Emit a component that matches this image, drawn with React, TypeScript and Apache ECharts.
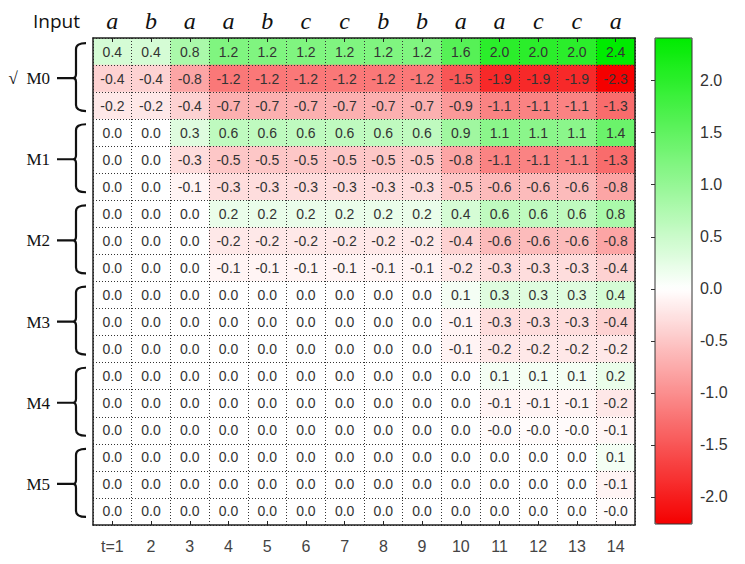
import React, { useEffect, useRef } from "react";
import * as echarts from "echarts";

// ---- data ----
const TIME_LABELS = ["t=1", "2", "3", "4", "5", "6", "7", "8", "9", "10", "11", "12", "13", "14"];
const INPUT_LABELS = ["a", "b", "a", "a", "b", "c", "c", "b", "b", "a", "a", "c", "c", "a"];
const GROUP_LABELS = ["\u221A  M0", "M1", "M2", "M3", "M4", "M5"];
const COLORBAR_TICKS = [-2.0, -1.5, -1.0, -0.5, 0.0, 0.5, 1.0, 1.5, 2.0];

const M0_1 = [0.4, 0.4, 0.8, 1.2, 1.2, 1.2, 1.2, 1.2, 1.2, 1.6, 2.0, 2.0, 2.0, 2.41];
const M0_2 = [-0.4, -0.4, -0.8, -1.2, -1.2, -1.2, -1.2, -1.2, -1.2, -1.5, -1.9, -1.9, -1.9, -2.26];
const M0_3 = [-0.2, -0.2, -0.4, -0.7, -0.7, -0.7, -0.7, -0.7, -0.7, -0.9, -1.1, -1.1, -1.1, -1.3];
const M1_1 = [0.0, 0.0, 0.3, 0.6, 0.6, 0.6, 0.6, 0.6, 0.6, 0.9, 1.1, 1.1, 1.1, 1.4];
const M1_2 = [0.0, 0.0, -0.3, -0.5, -0.5, -0.5, -0.5, -0.5, -0.5, -0.8, -1.1, -1.1, -1.1, -1.3];
const M1_3 = [0.0, 0.0, -0.1, -0.3, -0.3, -0.3, -0.3, -0.3, -0.3, -0.5, -0.6, -0.6, -0.6, -0.8];
const M2_1 = [0.0, 0.0, 0.0, 0.2, 0.2, 0.2, 0.2, 0.2, 0.2, 0.4, 0.6, 0.6, 0.6, 0.8];
const M2_2 = [0.0, 0.0, 0.0, -0.2, -0.2, -0.2, -0.2, -0.2, -0.2, -0.4, -0.6, -0.6, -0.6, -0.8];
const M2_3 = [0.0, 0.0, 0.0, -0.1, -0.1, -0.1, -0.1, -0.1, -0.1, -0.2, -0.3, -0.3, -0.3, -0.4];
const M3_1 = [0.0, 0.0, 0.0, 0.0, 0.0, 0.0, 0.0, 0.0, 0.0, 0.1, 0.3, 0.3, 0.3, 0.4];
const M3_2 = [0.0, 0.0, 0.0, 0.0, 0.0, 0.0, 0.0, 0.0, 0.0, -0.1, -0.3, -0.3, -0.3, -0.4];
const M3_3 = [0.0, 0.0, 0.0, 0.0, 0.0, 0.0, 0.0, 0.0, 0.0, -0.1, -0.2, -0.2, -0.2, -0.2];
const M4_1 = [0.0, 0.0, 0.0, 0.0, 0.0, 0.0, 0.0, 0.0, 0.0, 0.0, 0.1, 0.1, 0.1, 0.2];
const M4_2 = [0.0, 0.0, 0.0, 0.0, 0.0, 0.0, 0.0, 0.0, 0.0, 0.0, -0.1, -0.1, -0.1, -0.2];
const M4_3 = [0.0, 0.0, 0.0, 0.0, 0.0, 0.0, 0.0, 0.0, 0.0, 0.0, -0.04, -0.04, -0.04, -0.08];
const M5_1 = [0.0, 0.0, 0.0, 0.0, 0.0, 0.0, 0.0, 0.0, 0.0, 0.0, 0.0, 0.0, 0.0, 0.1];
const M5_2 = [0.0, 0.0, 0.0, 0.0, 0.0, 0.0, 0.0, 0.0, 0.0, 0.0, 0.0, 0.0, 0.0, -0.1];
const M5_3 = [0.0, 0.0, 0.0, 0.0, 0.0, 0.0, 0.0, 0.0, 0.0, 0.0, 0.0, 0.0, 0.0, -0.03];

const ROWS = [M0_1, M0_2, M0_3, M1_1, M1_2, M1_3, M2_1, M2_2, M2_3, M3_1, M3_2, M3_3, M4_1, M4_2, M4_3, M5_1, M5_2, M5_3];
const V_MIN = -2.26;
const V_MAX = 2.41;

// ---- layout ----
const GRID_LEFT = 93;
const GRID_TOP = 38;
const GRID_W = 542;
const GRID_H = 487;
const CB_LEFT = 655;
const CB_W = 37;

const BRACE_D =
  "M10,-35 Q0,-35 0,-29 L0,-4 Q0,0 -3,0 Q0,0 0,4 L0,27 Q0,33 10,33 M-3,0 L-19,0";
let braceRegistered = false;
function registerBrace() {
  if (braceRegistered) return;
  echarts.graphic.registerShape("brace", echarts.graphic.extendPath(BRACE_D, {}) as any);
  braceRegistered = true;
}

function colorStops(n: number): string[] {
  const out: string[] = [];
  for (let i = 0; i < n; i++) {
    const v = V_MIN + ((V_MAX - V_MIN) * i) / (n - 1);
    let r: number, g: number, b: number;
    if (v < 0) {
      const t = v / V_MIN;
      r = 255 - 10 * t;
      g = 255 * (1 - t);
      b = 255 * (1 - t);
    } else {
      const t = v / V_MAX;
      r = 255 * (1 - t);
      g = 255 - 20 * t;
      b = 255 * (1 - t);
    }
    out.push(`rgb(${Math.round(r)},${Math.round(g)},${Math.round(b)})`);
  }
  return out;
}

export default function App() {
  const ref = useRef<HTMLDivElement>(null);
  useEffect(() => {
    if (!ref.current) return;
    registerBrace();
    const chart = echarts.init(ref.current, undefined, { renderer: "svg" });
    const data: number[][] = [];
    ROWS.forEach((row, r) => row.forEach((v, c) => data.push([c, r, v])));
    const rowLabels = ROWS.map((_, r) => (r % 3 === 1 ? GROUP_LABELS[(r - 1) / 3] : ""));
    const rowH = GRID_H / ROWS.length;

    const braces = GROUP_LABELS.map((_, g) => ({
      type: "brace",
      x: 76,
      y: GRID_TOP + (g * 3 + 1.5) * rowH - 0.5,
      style: { stroke: "#111", lineWidth: 2.2, fill: "none" },
      silent: true,
    }));

    const dotted = { type: [1, 2], color: "#333", width: 1 };
    const frameLine = { show: true, lineStyle: { color: "#222", width: 1.5 } };

    chart.setOption({
      animation: false,
      textStyle: { fontFamily: "Liberation Sans" },
      grid: [
        { left: GRID_LEFT, top: GRID_TOP, width: GRID_W, height: GRID_H },
        {
          left: CB_LEFT, top: GRID_TOP, width: CB_W, height: GRID_H - 1,
          show: true, borderColor: "#333", borderWidth: 1, backgroundColor: "transparent", z: 10,
        },
      ],
      xAxis: [
        {
          type: "category", gridIndex: 0, position: "bottom", data: TIME_LABELS, z: 5,
          axisLine: frameLine,
          axisTick: { show: true, inside: true, alignWithLabel: true, length: 4, lineStyle: { color: "#222" } },
          axisLabel: { color: "#444", fontSize: 16, margin: 13, interval: 0 },
          splitLine: { show: true, interval: 0, lineStyle: dotted },
        },
        {
          type: "category", gridIndex: 0, position: "top", data: INPUT_LABELS, z: 5,
          axisLine: frameLine,
          axisTick: { show: true, inside: true, alignWithLabel: true, length: 4, lineStyle: { color: "#222" } },
          axisLabel: {
            color: "#111", fontSize: 24, fontStyle: "italic", fontFamily: "Liberation Serif",
            margin: 5, interval: 0,
          },
          splitLine: { show: false },
        },
        { type: "value", gridIndex: 1, show: false, min: 0, max: 1 },
      ],
      yAxis: [
        {
          type: "category", gridIndex: 0, inverse: true, data: rowLabels, z: 5,
          axisLine: frameLine,
          axisTick: { show: false },
          axisLabel: { color: "#111", fontSize: 17, fontFamily: "Liberation Serif", margin: 43, interval: 0 },
          splitLine: { show: true, interval: 0, lineStyle: dotted },
        },
        {
          type: "category", gridIndex: 0, inverse: true, position: "right", data: rowLabels, z: 5,
          axisLine: frameLine,
          axisTick: { show: false },
          axisLabel: { show: false },
          splitLine: { show: false },
        },
        {
          type: "value", gridIndex: 1, position: "right", min: V_MIN, max: V_MAX, z: 10,
          axisLine: { show: false },
          axisTick: { show: true, inside: true, length: 4, lineStyle: { color: "#333" }, customValues: COLORBAR_TICKS },
          axisLabel: {
            show: true, color: "#333", fontSize: 16, margin: 8,
            customValues: COLORBAR_TICKS,
            formatter: (v: number) => v.toFixed(1),
          },
          splitLine: { show: false },
        },
      ],
      visualMap: {
        type: "continuous",
        min: V_MIN,
        max: V_MAX,
        dimension: 2,
        seriesIndex: 0,
        calculable: false,
        hoverLink: false,
        orient: "vertical",
        left: CB_LEFT,
        top: GRID_TOP,
        itemWidth: CB_W,
        itemHeight: GRID_H - 1,
        padding: 0,
        inRange: { color: colorStops(61) },
      },
      series: [
        {
          type: "heatmap",
          xAxisIndex: 0,
          yAxisIndex: 0,
          data,
          label: {
            show: true,
            color: "#333",
            fontSize: 14,
            formatter: (p: any) => (p.value[2] as number).toFixed(1),
          },
          emphasis: { disabled: true },
        },
        { type: "line", xAxisIndex: 2, yAxisIndex: 2, data: [], silent: true },
      ],
      graphic: [
        {
          type: "text", x: 33, y: 21,
          style: { text: "Input", font: '19px "Open Sans"', fill: "#111", verticalAlign: "middle" },
        },
        ...braces,
      ],
    });
    return () => chart.dispose();
  }, []);
  return (
    <div
      ref={ref}
      style={{ position: "fixed", left: 0, top: 0, width: 745, height: 564, background: "#fff" }}
    />
  );
}
